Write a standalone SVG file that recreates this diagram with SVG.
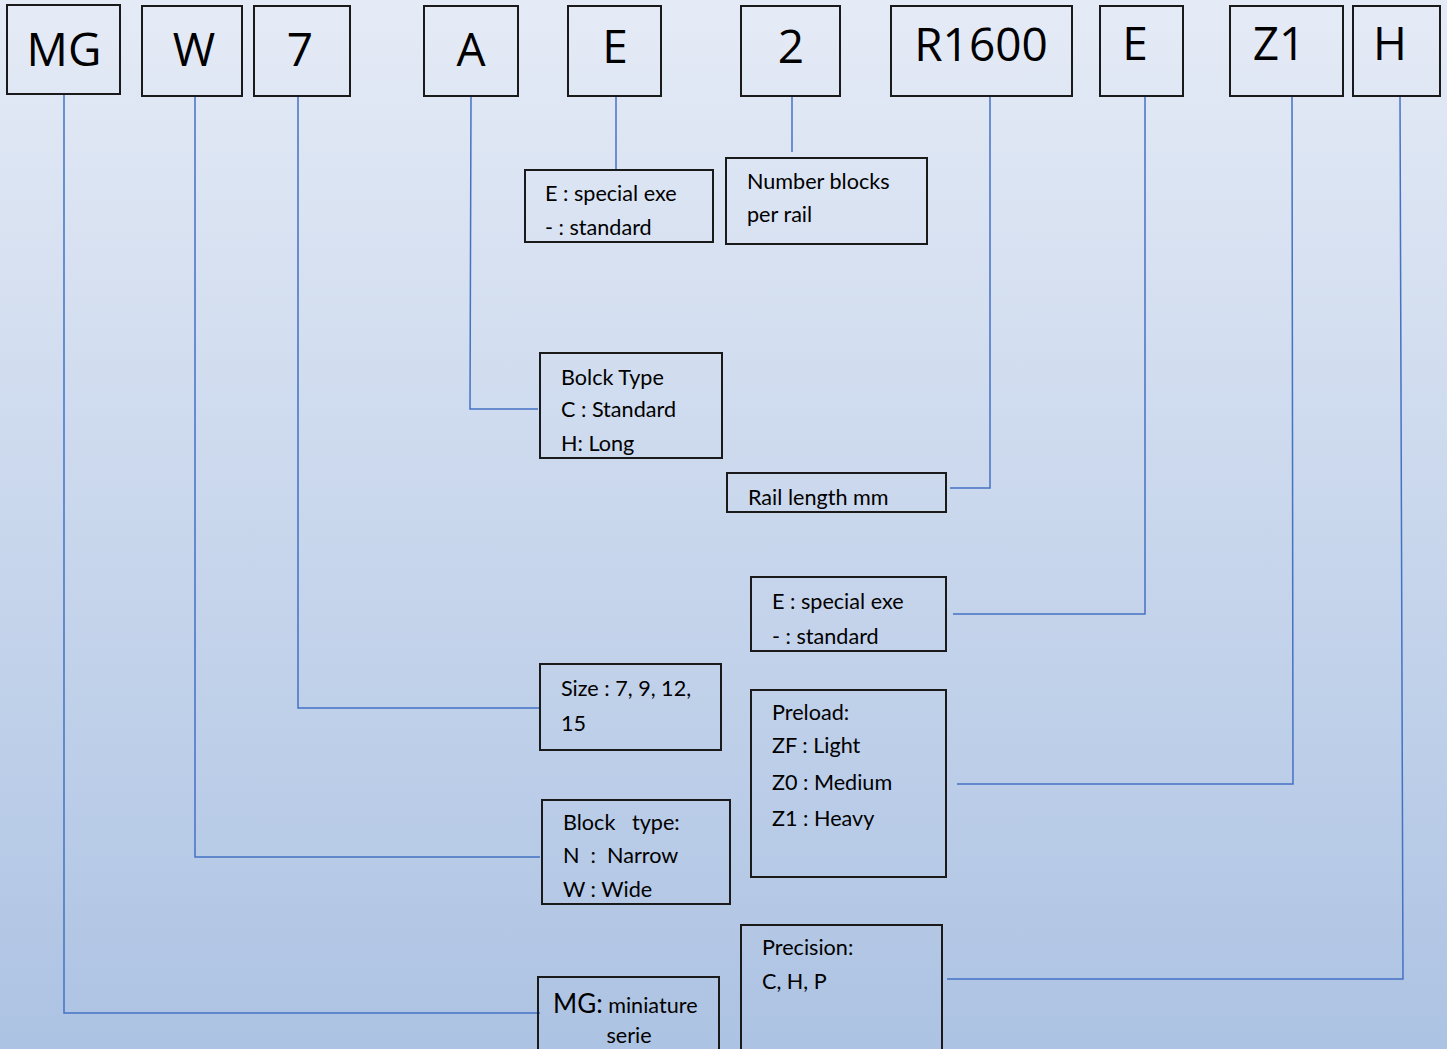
<svg xmlns="http://www.w3.org/2000/svg" width="1447" height="1049" viewBox="0 0 1447 1049">
<defs>
<linearGradient id="bg" x1="0" y1="0" x2="0" y2="1">
<stop offset="0" stop-color="#e5ebf6"/>
<stop offset="1" stop-color="#adc3e3"/>
</linearGradient>
<style>
.box{fill:none;stroke:#1a1a1a;stroke-width:2}
.code{font-family:"Open Sans","Liberation Sans",sans-serif;font-size:46px;fill:#000;text-anchor:middle}
.lbl{font-family:Lato,"Open Sans",sans-serif;font-size:21.6px;fill:#000}
.con{fill:none;stroke:#4472c4;stroke-width:1.5}
</style>
</defs>
<rect width="1447" height="1049" fill="url(#bg)"/>
<g id="connectors">
<polyline class="con" points="64,95 64,1013 540,1013"/>
<polyline class="con" points="195,96 195,857 540,857"/>
<polyline class="con" points="298,96 298,708 540,708"/>
<polyline class="con" points="471,96 470,409 538,409"/>
<polyline class="con" points="616,96 616,170"/>
<polyline class="con" points="792,96 792,152"/>
<polyline class="con" points="990,96 990,488 950,488"/>
<polyline class="con" points="1145,96 1145,614 953,614"/>
<polyline class="con" points="1292,96 1293,784 957,784"/>
<polyline class="con" points="1400,96 1403,979 947,979"/>
</g>
<g id="code-MG"><rect class="box" x="7" y="5" width="113" height="89"/><text class="code" x="64" y="66">MG</text></g>
<g id="code-W"><rect class="box" x="142" y="6" width="100" height="90"/><text class="code" x="194" y="66">W</text></g>
<g id="code-7"><rect class="box" x="254" y="6" width="96" height="90"/><text class="code" x="300" y="66">7</text></g>
<g id="code-A"><rect class="box" x="424" y="6" width="94" height="90"/><text class="code" x="471" y="66">A</text></g>
<g id="code-E1"><rect class="box" x="568" y="6" width="93" height="90"/><text class="code" x="615" y="63">E</text></g>
<g id="code-2"><rect class="box" x="741" y="6" width="99" height="90"/><text class="code" x="791" y="63">2</text></g>
<g id="code-R1600"><rect class="box" x="891" y="6" width="181" height="90"/><text class="code" x="981" y="61">R1600</text></g>
<g id="code-E2"><rect class="box" x="1100" y="6" width="83" height="90"/><text class="code" x="1135" y="60">E</text></g>
<g id="code-Z1"><rect class="box" x="1230" y="6" width="113" height="90"/><text class="code" x="1279" y="60">Z1</text></g>
<g id="code-H"><rect class="box" x="1353" y="6" width="87" height="90"/><text class="code" x="1390" y="60">H</text></g>

<g id="desc-E1"><rect class="box" x="525" y="170" width="188" height="72"/>
<text class="lbl" x="545" y="201">E : special exe</text><text class="lbl" x="545" y="235">- : standard</text></g>
<g id="desc-2"><rect class="box" x="726" y="158" width="201" height="86"/>
<text class="lbl" x="747" y="189">Number blocks</text><text class="lbl" x="747" y="222">per rail</text></g>
<g id="desc-A"><rect class="box" x="540" y="353" width="182" height="105"/>
<text class="lbl" x="561" y="385">Bolck Type</text><text class="lbl" x="561" y="417">C : Standard</text><text class="lbl" x="561" y="451">H: Long</text></g>
<g id="desc-R1600"><rect class="box" x="727" y="473" width="219" height="39"/>
<text class="lbl" x="748" y="505">Rail length mm</text></g>
<g id="desc-E2"><rect class="box" x="751" y="577" width="195" height="74"/>
<text class="lbl" x="772" y="609">E : special exe</text><text class="lbl" x="772" y="644">- : standard</text></g>
<g id="desc-7"><rect class="box" x="540" y="664" width="181" height="86"/>
<text class="lbl" x="561" y="696">Size : 7, 9, 12,</text><text class="lbl" x="561" y="731">15</text></g>
<g id="desc-Z1"><rect class="box" x="751" y="690" width="195" height="187"/>
<text class="lbl" x="772" y="720">Preload:</text><text class="lbl" x="772" y="753">ZF : Light</text><text class="lbl" x="772" y="790">Z0 : Medium</text><text class="lbl" x="772" y="826">Z1 : Heavy</text></g>
<g id="desc-W"><rect class="box" x="542" y="800" width="188" height="104"/>
<text class="lbl" x="563" y="830" xml:space="preserve">Block   type:</text><text class="lbl" x="563" y="863" xml:space="preserve">N  :  Narrow</text><text class="lbl" x="563" y="897">W : Wide</text></g>
<g id="desc-H"><rect class="box" x="741" y="925" width="201" height="130"/>
<text class="lbl" x="762" y="955">Precision:</text><text class="lbl" x="762" y="989">C, H, P</text></g>
<g id="desc-MG"><rect class="box" x="538" y="977" width="181" height="80"/>
<text class="lbl" x="553" y="1013"><tspan font-size="26">MG:</tspan> miniature</text><text class="lbl" x="629" y="1043" text-anchor="middle">serie</text></g>
</svg>
